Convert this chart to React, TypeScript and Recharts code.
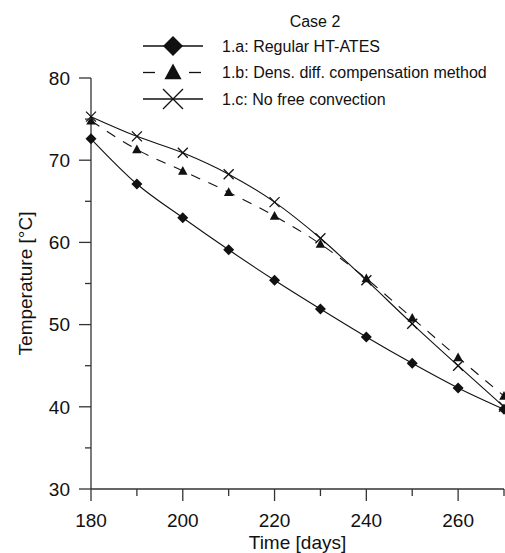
import { Legend, Line, LineChart, XAxis, YAxis } from "recharts";

const days = [180, 190, 200, 210, 220, 230, 240, 250, 260, 270];
const regular = [72.6, 67.1, 63.0, 59.1, 55.4, 51.9, 48.5, 45.3, 42.3, 39.7];
const densComp = [74.8, 71.3, 68.7, 66.1, 63.2, 59.8, 55.6, 50.8, 46.0, 41.3];
const noConvection = [75.3, 72.9, 70.9, 68.3, 64.9, 60.5, 55.4, 50.1, 45.0, 40.0];

const xTicks = [180, 190, 200, 210, 220, 230, 240, 250, 260, 270];
const yTicks = [30, 35, 40, 45, 50, 55, 60, 65, 70, 75, 80];

const data = days.map((d, i) => ({
  day: d,
  a: regular[i],
  b: densComp[i],
  c: noConvection[i],
}));

const FONT = "'Liberation Sans', Arial, sans-serif";
const INK = "#111";
const AXIS = "#333";

const Diamond = ({ cx, cy, r = 5 }: any) => (
  <polygon
    points={`${cx},${cy - r} ${cx + r},${cy} ${cx},${cy + r} ${cx - r},${cy}`}
    fill={INK}
  />
);

const Triangle = ({ cx, cy, r = 5 }: any) => (
  <polygon
    points={`${cx},${cy - r} ${cx + r * 0.95},${cy + r * 0.75} ${cx - r * 0.95},${cy + r * 0.75}`}
    fill={INK}
  />
);

const Cross = ({ cx, cy, r = 5 }: any) => (
  <g stroke={INK} strokeWidth={1.3}>
    <line x1={cx - r} y1={cy - r} x2={cx + r} y2={cy + r} />
    <line x1={cx - r} y1={cy + r} x2={cx + r} y2={cy - r} />
  </g>
);

const YTick = (props: any) => {
  const { x, y, payload } = props;
  const major = payload.value % 10 === 0;
  return (
    <g>
      <line x1={x} x2={x - (major ? 12 : 6)} y1={y} y2={y} stroke={AXIS} strokeWidth={1.3} />
      {major && (
        <text x={x - 21} y={y} dy="0.36em" textAnchor="end" fontSize={19} fill={INK} fontFamily={FONT}>
          {payload.value}
        </text>
      )}
    </g>
  );
};

const XTick = (props: any) => {
  const { x, y, payload } = props;
  const major = payload.value % 20 === 0;
  return (
    <g>
      <line x1={x} x2={x} y1={y} y2={y + (major ? 12 : 7)} stroke={AXIS} strokeWidth={1.3} />
      {major && (
        <text x={x} y={y + 31} dy="0.36em" textAnchor="middle" fontSize={19} fill={INK} fontFamily={FONT}>
          {payload.value}
        </text>
      )}
    </g>
  );
};

const legendRows = [
  { label: "1.a: Regular HT-ATES", mark: "diamond", dashed: false },
  { label: "1.b: Dens. diff. compensation method", mark: "triangle", dashed: true },
  { label: "1.c: No free convection", mark: "cross", dashed: false },
];

const renderLegend = () => (
  <svg width={505} height={112} style={{ display: "block" }}>
    <text x={315} y={21} dy="0.36em" textAnchor="middle" fontSize={16} fill={INK} fontFamily={FONT}>
      Case 2
    </text>
    {legendRows.map((row, i) => {
      const cy = 46 + i * 26.5;
      return (
        <g key={row.label}>
          {row.dashed ? (
            <g stroke={INK} strokeWidth={1.3}>
              <line x1={143} x2={155} y1={cy} y2={cy} />
              <line x1={189} x2={201} y1={cy} y2={cy} />
            </g>
          ) : (
            <line x1={143} x2={203} y1={cy} y2={cy} stroke={INK} strokeWidth={1.3} />
          )}
          {row.mark === "diamond" && <Diamond cx={173} cy={cy} r={10} />}
          {row.mark === "triangle" && <Triangle cx={173} cy={cy} r={9} />}
          {row.mark === "cross" && <Cross cx={173} cy={cy} r={10} />}
          <text x={222} y={cy} dy="0.36em" fontSize={16} fill={INK} fontFamily={FONT}>
            {row.label}
          </text>
        </g>
      );
    })}
  </svg>
);

const App = () => {
  return (
    <div style={{ position: "absolute", left: 0, top: 0, background: "#fff" }}>
      <LineChart width={505} height={553} data={data} margin={{ top: 78, right: 1, bottom: 0, left: 0 }}>
        <XAxis
          dataKey="day"
          type="number"
          domain={[180, 270]}
          ticks={xTicks}
          height={64}
          tickSize={0}
          tickMargin={0}
          tickLine={false}
          tick={<XTick />}
          axisLine={{ stroke: AXIS, strokeWidth: 1.3 }}
          interval={0}
          label={{
            value: "Time [days]",
            position: "insideBottom",
            offset: 4,
            fontSize: 19,
            fill: INK,
            fontFamily: FONT,
          }}
        />
        <YAxis
          type="number"
          domain={[30, 80]}
          ticks={yTicks}
          width={91}
          tickSize={0}
          tickMargin={0}
          tickLine={false}
          tick={<YTick />}
          axisLine={{ stroke: AXIS, strokeWidth: 1.3 }}
          interval={0}
          label={{
            content: (props: any) => {
              const vb = props.viewBox;
              const cx = vb.x + 25;
              const cy = vb.y + vb.height / 2;
              return (
                <text
                  x={cx}
                  y={cy}
                  dy="0.36em"
                  transform={`rotate(-90 ${cx} ${cy})`}
                  textAnchor="middle"
                  fontSize={19}
                  fill={INK}
                  fontFamily={FONT}
                >
                  Temperature [°C]
                </text>
              );
            },
          }}
        />
        <Legend
          layout="vertical"
          align="center"
          verticalAlign="middle"
          wrapperStyle={{ top: 0, left: 0, width: 505 }}
          content={renderLegend}
        />
        <Line
          type="monotone"
          dataKey="c"
          stroke={INK}
          strokeWidth={1.1}
          dot={(p: any) => <Cross key={p.index} cx={p.cx} cy={p.cy} r={5} />}
          isAnimationActive={false}
        />
        <Line
          type="monotone"
          dataKey="b"
          stroke={INK}
          strokeWidth={1.1}
          strokeDasharray="10 9"
          dot={(p: any) => <Triangle key={p.index} cx={p.cx} cy={p.cy} r={5} />}
          isAnimationActive={false}
        />
        <Line
          type="monotone"
          dataKey="a"
          stroke={INK}
          strokeWidth={1.1}
          dot={(p: any) => <Diamond key={p.index} cx={p.cx} cy={p.cy} r={5.5} />}
          isAnimationActive={false}
        />
      </LineChart>
    </div>
  );
};

export default App;
